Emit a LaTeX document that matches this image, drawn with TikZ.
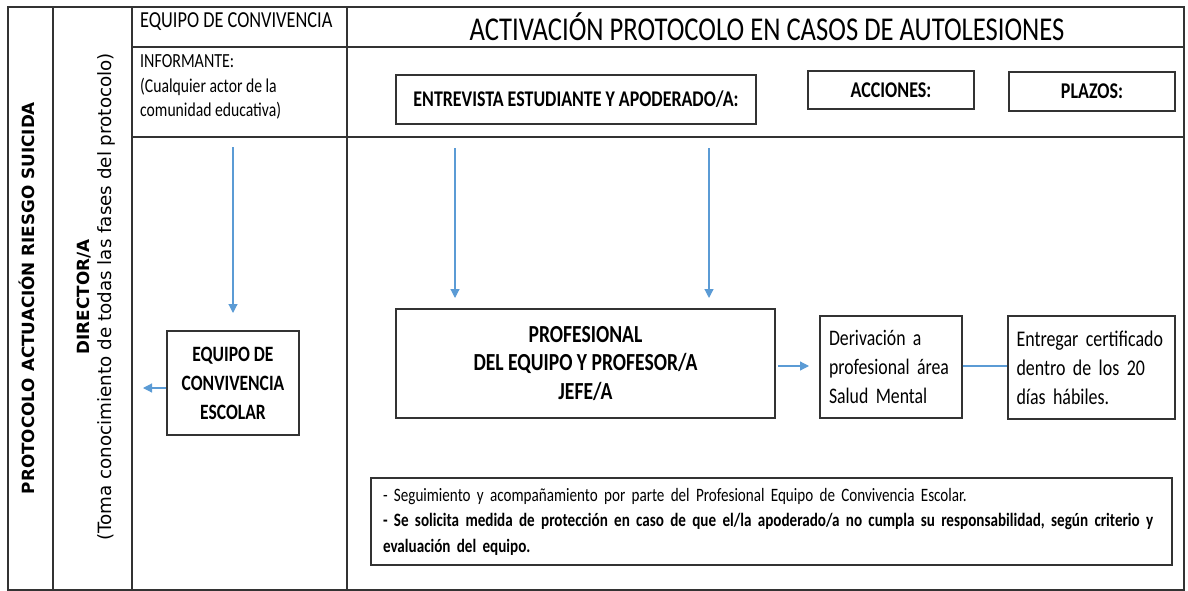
\documentclass[tikz,border=0pt]{standalone}
\usepackage{fontspec}
\setmainfont{Carlito}[FakeStretch=0.8]
\newfontfamily\dvs{DejaVu Sans}
\usetikzlibrary{arrows.meta,calc}
\definecolor{frame}{HTML}{333333}
\definecolor{arrblue}{HTML}{5B9BD5}
\newcommand\fsz[2]{\fontsize{#1}{#2}\selectfont}
\begin{document}
\begin{tikzpicture}[x=1pt,y=-1pt,
  grid/.style={draw=frame,line width=1.4pt},
  box/.style={draw=frame,line width=1.3pt,inner sep=0pt,align=center},
  flow/.style={draw=arrblue,line width=1.2pt,-{Triangle[width=9pt,length=9pt]}},
  link/.style={draw=arrblue,line width=1.2pt},
  every node/.style={text=black}]
\useasboundingbox (0,0) rectangle (1188,591);
% table grid
\draw[grid] (8,7) rectangle (1184,590);
\draw[grid] (53,7) -- (53,590);
\draw[grid] (132,7) -- (132,590);
\draw[grid] (347,7) -- (347,590);
\draw[grid] (132,47) -- (1184,47);
\draw[grid] (132,137) -- (1184,137);
% rotated side texts
\node[rotate=90,anchor=base,inner sep=0pt,font=\dvs\bfseries\fontsize{16.8}{18}\selectfont] (proto) at (34.5,298) {PROTOCOLO ACTUACIÓN RIESGO SUICIDA};
\node[rotate=90,anchor=base,inner sep=0pt,font=\dvs\bfseries\fontsize{16.8}{18}\selectfont] (dir) at (89.3,297) {DIRECTOR/A};
\node[rotate=90,anchor=base,inner sep=0pt,font=\dvs\fontsize{18.3}{20}\selectfont] (toma) at (111,297) {(Toma conocimiento de todas las fases del protocolo)};
% header texts
\node[anchor=west,inner sep=0pt,font=\fsz{22.9}{24}] (eqc) at (140,22) {EQUIPO DE CONVIVENCIA};
\node[font=\fsz{33.3}{35}] (title) at (767,27) {ACTIVACIÓN PROTOCOLO EN CASOS DE AUTOLESIONES};
\node[anchor=west,inner sep=0pt,font=\fsz{20}{22}] (inf) at (140,61) {INFORMANTE:};
\node[anchor=north west,inner sep=0pt,align=left,font=\fsz{19.6}{24}] (cual) at (140,78) {(Cualquier actor de la\\comunidad educativa)};
% boxes
\node[box,minimum width=360pt,minimum height=49pt,font=\bfseries\fsz{22.4}{24}] (entre) at (576,99.5) {ENTREVISTA ESTUDIANTE Y APODERADO/A:};
\node[box,minimum width=166pt,minimum height=38pt,font=\bfseries\fsz{22.5}{24}] (acc) at (891,90) {ACCIONES:};
\node[box,minimum width=166pt,minimum height=39pt,font=\bfseries\fsz{22.5}{24}] (plazos) at (1092,91.5) {PLAZOS:};
\node[box,minimum width=132pt,minimum height=104pt,font=\bfseries\fsz{21.9}{29}] (equipo) at (233,383) {EQUIPO DE\\CONVIVENCIA\\ESCOLAR};
\node[box,minimum width=379pt,minimum height=109pt,font=\bfseries\fsz{24.5}{28.5}] (prof) at (585.5,363.5) {PROFESIONAL\\DEL EQUIPO Y PROFESOR/A\\JEFE/A};
\node[box,minimum width=142pt,minimum height=102pt,align=left,text width=124pt,inner xsep=9pt,font=\fsz{22.2}{29}] (der) at (891,367) {Derivación a\\profesional área\\Salud Mental};
\node[box,minimum width=167pt,minimum height=103pt,align=left,text width=150pt,inner xsep=8.5pt,font=\fsz{22.4}{29}] (ent) at (1091.5,367.5) {Entregar certificado\\dentro de los 20\\días hábiles.};
\node[box,minimum width=801pt,minimum height=87pt,align=left,text width=781pt,inner xsep=10pt,font=\fsz{18.9}{25.5}] (seg) at (771.5,521.5) {\hspace*{2pt}- Seguimiento y acompañamiento por parte del Profesional Equipo de Convivencia Escolar.\\\hspace*{2pt}\textbf{- Se solicita medida de protección en caso de que el/la apoderado/a no cumpla su responsabilidad, según criterio y}\\\hspace*{2pt}\textbf{evaluación del equipo.}};
% free ends of connectors
\coordinate (c1) at (233,147);
\coordinate (c2) at (455,148);
\coordinate (c3) at (709,148);
\coordinate (c4) at (143,388);
\coordinate (c5) at (778,366);
\coordinate (c6) at (809,366);
% connectors
\draw[flow] (c1) -- (233,313);
\draw[flow] (c2) -- (455,298);
\draw[flow] (c3) -- (709,298);
\draw[flow] (equipo.west |- c4) -- (c4);
\draw[flow] (c5) -- (c6);
\draw[link] (der.east |- c5) -- (ent.west |- c5);
\end{tikzpicture}
\end{document}
